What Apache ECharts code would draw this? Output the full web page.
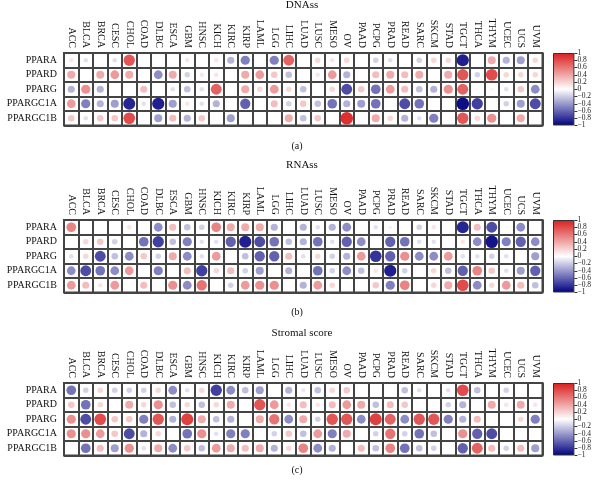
<!DOCTYPE html>
<html>
<head>
<meta charset="utf-8">
<script src="https://cdn.jsdelivr.net/npm/echarts@6/dist/echarts.min.js"></script>
<style>
html,body{margin:0;padding:0;background:#fff;}
#chart{width:594px;height:480px;}
</style>
</head>
<body>
<div id="chart"></div>
<script>
const _ = null;
const cancers = ['ACC','BLCA','BRCA','CESC','CHOL','COAD','DLBC','ESCA','GBM','HNSC','KICH','KIRC','KIRP','LAML','LGG','LIHC','LUAD','LUSC','MESO','OV','PAAD','PCPG','PRAD','READ','SARC','SKCM','STAD','TGCT','THCA','THYM','UCEC','UCS','UVM'];
const genes = ['PPARA','PPARD','PPARG','PPARGC1A','PPARGC1B'];
const panelTitles = ['DNAss','RNAss','Stromal score'];
const panelTags = ['(a)','(b)','(c)'];
const scaleRange = [-1, 1];
const colorTicks = [-1, -0.8, -0.6, -0.4, -0.2, 0, 0.2, 0.4, 0.6, 0.8, 1];

// rows follow `genes`, columns follow `cancers`; null = not significant
const dnass = [
  [0.12,-0.12,_,-0.12,0.75,_,_,_,0.12,_,0.12,-0.3,-0.5,_,-0.5,0.7, _,0.18,0.12,0.18,_,-0.18,-0.12,_,-0.18,0.18,0.18,-0.88,_,0.38,-0.3,-0.38,0.18],
  [0.38,_,0.38,0.45,0.38,_,-0.45,0.38,-0.18,0.12,0.12,_,0.38,0.45,0.25,-0.25, _,0.12,0.45,-0.3,_,0.3,0.38,0.3,0.38,_,0.38,0.75,-0.18,0.8,0.18,0.18,0.18],
  [-0.3,0.5,-0.3,_,_,0.3,_,-0.12,-0.25,-0.12,0.7,_,0.38,0.18,0.45,0.18, -0.25,_,0.18,-0.7,0.25,-0.55,0.45,0.3,-0.25,-0.3,0.5,0.7,_,0.06,-0.12,0.25,-0.45],
  [0.45,-0.5,-0.3,-0.38,-0.85,-0.12,-0.88,-0.38,0.12,-0.12,-0.3,_,-0.62,_,0.3,-0.18, 0.25,-0.25,-0.55,-0.3,-0.38,-0.55,_,-0.7,-0.55,_,_,-0.95,-0.75,_,-0.18,-0.38,-0.7],
  [0.25,-0.12,0.25,0.25,0.8,_,-0.38,0.3,-0.3,0.25,_,-0.38,_,_,_,0.38, -0.25,0.25,_,0.92,_,0.38,0.18,-0.3,-0.12,-0.5,_,0.75,0.18,0.5,_,0.38,_]
];
const rnass = [
  [0.55,_,_,_,0.12,_,-0.45,0.3,-0.25,-0.18,0.55,0.38,0.38,0.38,-0.3,_, -0.3,-0.12,-0.3,-0.45,_,-0.12,-0.06,_,-0.18,0.12,_,-0.85,0.3,-0.7,_,-0.45,_],
  [_,0.18,0.25,-0.18,_,-0.55,-0.75,-0.25,-0.5,-0.12,-0.12,-0.62,-0.88,-0.7,-0.55,-0.25, -0.3,-0.55,-0.12,-0.62,-0.45,_,-0.62,-0.55,-0.12,-0.12,_,0.12,-0.45,-0.92,-0.5,-0.62,-0.45],
  [-0.12,0.18,-0.7,-0.25,-0.45,0.25,-0.18,0.38,-0.45,-0.12,0.45,_,-0.25,-0.62,-0.62,0.3, -0.12,0.18,-0.18,-0.3,0.45,-0.8,-0.62,0.5,-0.45,-0.45,0.45,-0.12,-0.12,-0.18,-0.12,_,-0.38],
  [-0.45,-0.7,-0.55,-0.45,0.45,_,-0.5,_,0.3,-0.75,0.18,0.3,-0.18,-0.38,_,-0.3, _,-0.55,-0.18,-0.45,-0.25,0.12,-0.88,-0.18,_,0.18,-0.25,-0.62,0.55,0.25,-0.12,-0.38,-0.62],
  [0.45,0.3,0.12,0.45,_,0.3,_,0.5,-0.45,0.62,_,-0.18,0.45,0.5,0.5,_, -0.3,0.45,0.18,_,_,0.25,-0.5,0.55,_,0.18,0.38,0.8,-0.45,0.18,0.45,0.3,-0.25]
];
const stromal = [
  [-0.55,-0.18,0.18,-0.18,-0.18,-0.18,0.18,-0.45,-0.12,0.18,-0.75,-0.45,-0.25,-0.38,_,-0.3, 0.12,-0.25,0.18,0.25,_,_,_,-0.25,-0.12,_,-0.12,0.8,-0.25,_,-0.18,_,_],
  [0.25,-0.55,0.18,_,0.38,0.18,0.5,-0.25,0.18,-0.25,0.18,0.38,_,0.75,0.45,0.12, 0.3,0.12,0.3,0.45,0.38,-0.25,0.3,0.25,_,_,-0.18,-0.3,_,0.38,0.12,0.38,0.12],
  [0.5,-0.7,0.8,0.25,0.25,-0.5,0.75,-0.3,0.85,0.38,-0.25,-0.3,_,0.38,0.62,-0.45, 0.38,-0.18,0.75,0.75,-0.45,0.85,0.7,-0.45,0.75,0.75,-0.5,-0.3,0.3,_,_,0.18,-0.5],
  [0.5,0.5,0.45,0.25,-0.7,-0.3,0.18,_,-0.55,0.5,-0.12,-0.5,-0.5,_,-0.18,0.25, -0.25,0.45,-0.5,0.38,_,-0.18,0.62,-0.18,-0.55,-0.25,_,0.5,-0.62,-0.7,_,_,_],
  [_,-0.55,0.3,-0.38,0.5,-0.12,0.38,-0.45,0.25,-0.25,0.45,0.38,0.3,0.38,-0.3,0.18, 0.55,-0.45,-0.3,_,0.3,-0.25,0.55,-0.55,-0.25,-0.18,_,-0.62,0.7,0.3,-0.18,0.3,-0.38]
];
const panels = [dnass, rnass, stromal];

const NAVY = '#000080', RED = '#D91E1E';
const FONT = 'Liberation Serif';
const gridLeft = 64, gridW = 478.5, gridH = 72.5;
const tops = [53, 220, 383];
const cell = gridW / cancers.length;
const lineCol = '#444444';

function fmt(v){
  const r = Math.round(v*10)/10;
  if (r === 0) return '0';
  return (r < 0 ? '\u2212' : '') + String(Math.abs(r));
}

const grids = [], xAxes = [], yAxes = [], series = [], graphics = [];
panels.forEach((mat, k) => {
  grids.push({left: gridLeft, top: tops[k], width: gridW, height: gridH, show: true,
    borderColor: lineCol, borderWidth: 2, backgroundColor: 'transparent'});
  xAxes.push({type: 'category', gridIndex: k, data: cancers, position: 'top',
    axisLine: {show: false}, axisTick: {show: false},
    axisLabel: {rotate: 90, interval: 0, margin: 5, fontFamily: FONT, fontSize: 10, color: '#111'},
    splitLine: {show: true, interval: 0, lineStyle: {color: lineCol, width: 2}}});
  yAxes.push({type: 'category', gridIndex: k, data: genes, inverse: true,
    axisLine: {show: false}, axisTick: {show: false},
    axisLabel: {interval: 0, margin: 7, fontFamily: FONT, fontSize: 10, color: '#111'},
    splitLine: {show: true, interval: 0, lineStyle: {color: lineCol, width: 2}}});
  const data = [];
  mat.forEach((row, r) => row.forEach((v, c) => { if (v !== null) data.push([c, r, v]); }));
  series.push({type: 'scatter', xAxisIndex: k, yAxisIndex: k, data: data,
    symbol: 'circle',
    symbolSize: d => cell * 0.9 * Math.sqrt(Math.abs(d[2])),
    itemStyle: {opacity: 1}, silent: true, z: 3});
});
panels.forEach((mat, k) => {
  const gi = 3 + k;
  grids.push({left: 553, top: tops[k], width: 22, height: gridH, show: false});
  xAxes.push({type: 'category', gridIndex: gi, data: ['scale'], show: false});
});
panels.forEach((mat, k) => {
  yAxes.push({type: 'value', gridIndex: 3 + k, min: 0, max: scaleRange[1] - scaleRange[0], show: false});
});
panels.forEach((mat, k) => {
  yAxes.push({type: 'category', gridIndex: 3 + k, position: 'right', boundaryGap: false,
    data: colorTicks.map(fmt),
    axisLine: {show: false}, splitLine: {show: false},
    axisTick: {show: true, length: 3, interval: 0, lineStyle: {color: '#333', width: 1}},
    axisLabel: {interval: 0, fontFamily: FONT, fontSize: 7.5, color: '#222', margin: 3}});
  series.push({type: 'bar', xAxisIndex: 3 + k, yAxisIndex: 3 + k, barWidth: '100%', silent: true,
    data: [scaleRange[1] - scaleRange[0]],
    itemStyle: {borderColor: '#333', borderWidth: 1,
      color: new echarts.graphic.LinearGradient(0, 0, 0, 1, [
        {offset: 0, color: RED}, {offset: 0.5, color: '#ffffff'}, {offset: 1, color: NAVY}])}});
});
const titleY = [5, 165, 333];
const tagY = [146, 312, 470];
panels.forEach((m, k) => {
  graphics.push({type: 'text', x: 302, y: titleY[k], style: {text: panelTitles[k], font: '11px "Liberation Serif"', fill: '#111', textAlign: 'center', textVerticalAlign: 'middle'}});
  graphics.push({type: 'text', x: 297, y: tagY[k], style: {text: panelTags[k], font: '10px "Liberation Serif"', fill: '#111', textAlign: 'center', textVerticalAlign: 'middle'}});
});

const chart = echarts.init(document.getElementById('chart'), null, {renderer: 'canvas'});
chart.setOption({
  animation: false,
  backgroundColor: '#fff',
  grid: grids, xAxis: xAxes, yAxis: yAxes,
  visualMap: {type: 'continuous', show: false, min: scaleRange[0], max: scaleRange[1], dimension: 2,
    seriesIndex: [0, 1, 2], inRange: {color: [NAVY, '#ffffff', RED]}},
  series: series,
  graphic: graphics
});
</script>
</body>
</html>
